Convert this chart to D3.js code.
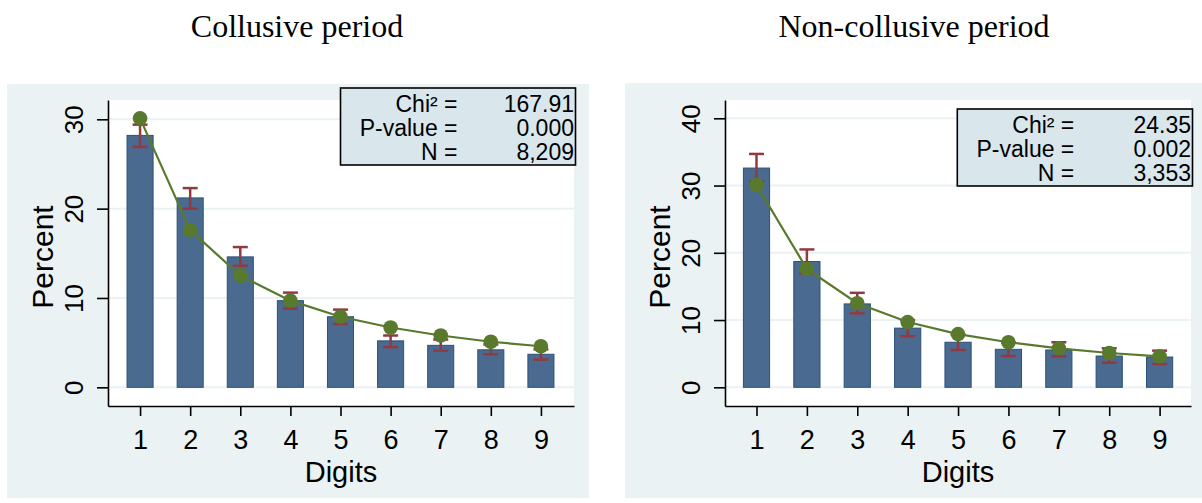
<!DOCTYPE html>
<html>
<head>
<meta charset="utf-8">
<script src="https://cdn.jsdelivr.net/npm/d3@7/dist/d3.min.js"></script>
<style>
body { margin: 0; background: #fff; }
svg { display: block; }
text { font-family: "Liberation Sans", Arial, sans-serif; fill: #000; }
.title { font-family: "Liberation Serif", "Times New Roman", serif; }
</style>
</head>
<body>
<svg width="1202" height="503"></svg>
<script>
/** Data */
var digits = [1, 2, 3, 4, 5, 6, 7, 8, 9];
var benford = [30.1, 17.6, 12.5, 9.7, 7.9, 6.7, 5.8, 5.1, 4.6];

var collusivePct  = [28.2, 21.2, 14.6, 9.7, 7.9, 5.2, 4.7, 4.2, 3.7];
var collusiveLow  = [26.9, 20.0, 13.6, 8.8, 7.1, 4.5, 4.1, 3.7, 3.1];
var collusiveHigh = [29.4, 22.3, 15.7, 10.6, 8.7, 5.8, 5.35, 4.8, 4.25];

var nonCollusivePct  = [32.6, 18.7, 12.4, 8.8, 6.7, 5.65, 5.55, 4.65, 4.5];
var nonCollusiveLow  = [30.6, 16.95, 11.0, 7.6, 5.55, 4.65, 4.6, 3.65, 3.45];
var nonCollusiveHigh = [34.7, 20.5, 14.05, 10.0, 7.85, 6.65, 6.7, 5.8, 5.45];

var statLabels = ["Chi\u00b2 =", "P-value =", "N ="];
var collusiveStats = ["167.91", "0.000", "8,209"];
var nonCollusiveStats = ["24.35", "0.002", "3,353"];

var collusiveTicks = [0, 10, 20, 30];
var nonCollusiveTicks = [0, 10, 20, 30, 40];

var titles = ["Collusive period", "Non-collusive period"];

d3.select(window).on('load', init);

function init() {
    var svg = d3.select("svg");

    drawPanel(svg, {
        title: titles[0], titleX: 297,
        pct: collusivePct, low: collusiveLow, high: collusiveHigh,
        stats: collusiveStats, ticks: collusiveTicks,
        bg: [7, 84, 582, 414],
        plot: { left: 108, right: 574, top: 100, bottom: 406 },
        xDomain: [0.36, 9.66], yDomain: [-2.09, 32.16],
        box: { x: 340.5, y: 88 }
    });

    drawPanel(svg, {
        title: titles[1], titleX: 914,
        pct: nonCollusivePct, low: nonCollusiveLow, high: nonCollusiveHigh,
        stats: nonCollusiveStats, ticks: nonCollusiveTicks,
        bg: [625, 83, 577, 415],
        plot: { left: 725, right: 1191, top: 100, bottom: 406 },
        xDomain: [0.375, 9.623], yDomain: [-2.78, 42.72],
        box: { x: 957.3, y: 109 }
    });
}

function drawPanel(svg, cfg) {
    var p = cfg.plot;

    svg.append("text")
        .attr("class", "title")
        .attr("x", cfg.titleX)
        .attr("y", 37)
        .attr("text-anchor", "middle")
        .style("font-size", "32px")
        .text(cfg.title);

    // graph region background
    svg.append("rect")
        .attr("x", cfg.bg[0]).attr("y", cfg.bg[1])
        .attr("width", cfg.bg[2]).attr("height", cfg.bg[3])
        .attr("fill", "#eaf2f3");

    svg.append("rect")
        .attr("x", p.left).attr("y", p.top)
        .attr("width", p.right - p.left).attr("height", p.bottom - p.top)
        .attr("fill", "#fff");

    var x = d3.scaleLinear().domain(cfg.xDomain).range([p.left, p.right]);
    var y = d3.scaleLinear().domain(cfg.yDomain).range([p.bottom, p.top]);

    var g = svg.append("g");

    // grid lines
    g.append("g")
        .selectAll("line")
        .data(cfg.ticks)
        .enter()
        .append("line")
        .attr("x1", p.left).attr("x2", p.right)
        .attr("y1", function (d) { return y(d); })
        .attr("y2", function (d) { return y(d); })
        .attr("stroke", "#eaf2f3")
        .attr("stroke-width", 2);

    var barW = x(1.26) - x(0.74);

    g.append("g")
        .selectAll("rect")
        .data(digits)
        .enter()
        .append("rect")
        .attr("x", function (d) { return x(d) - barW / 2; })
        .attr("y", function (d, i) { return y(cfg.pct[i]); })
        .attr("width", barW)
        .attr("height", function (d, i) { return y(0) - y(cfg.pct[i]); })
        .attr("fill", "#4a6b8f")
        .attr("stroke", "#2b5179")
        .attr("stroke-width", 1);

    // error bars
    var capW = 7.5;
    var eb = g.append("g")
        .attr("stroke", "#913a43")
        .attr("stroke-width", 2.5)
        .selectAll("g")
        .data(digits)
        .enter()
        .append("g");

    eb.append("line")
        .attr("x1", function (d) { return x(d); })
        .attr("x2", function (d) { return x(d); })
        .attr("y1", function (d, i) { return y(cfg.low[i]); })
        .attr("y2", function (d, i) { return y(cfg.high[i]); });
    eb.append("line")
        .attr("x1", function (d) { return x(d) - capW; })
        .attr("x2", function (d) { return x(d) + capW; })
        .attr("y1", function (d, i) { return y(cfg.low[i]); })
        .attr("y2", function (d, i) { return y(cfg.low[i]); });
    eb.append("line")
        .attr("x1", function (d) { return x(d) - capW; })
        .attr("x2", function (d) { return x(d) + capW; })
        .attr("y1", function (d, i) { return y(cfg.high[i]); })
        .attr("y2", function (d, i) { return y(cfg.high[i]); });

    // expected (Benford) line
    var line = d3.line()
        .x(function (d) { return x(d); })
        .y(function (d, i) { return y(benford[i]); });

    g.append("path")
        .datum(digits)
        .attr("d", line)
        .attr("fill", "none")
        .attr("stroke", "#597a2c")
        .attr("stroke-width", 2.2);

    g.append("g")
        .selectAll("circle")
        .data(digits)
        .enter()
        .append("circle")
        .attr("cx", function (d) { return x(d); })
        .attr("cy", function (d, i) { return y(benford[i]); })
        .attr("r", 7.3)
        .attr("fill", "#597a2c");

    // axes
    var yAxis = svg.append("g")
        .attr("transform", "translate(" + p.left + ",0)")
        .call(d3.axisLeft(y).tickValues(cfg.ticks).tickSize(11).tickSizeOuter(0));
    yAxis.selectAll("text")
        .attr("transform", "rotate(-90)")
        .attr("x", 0)
        .attr("y", -25)
        .attr("dy", 0)
        .attr("text-anchor", "middle")
        .style("font-size", "26px");

    var xAxis = svg.append("g")
        .attr("transform", "translate(0," + p.bottom + ")")
        .call(d3.axisBottom(x).tickValues(digits).tickSize(10).tickSizeOuter(0));
    xAxis.selectAll("text")
        .attr("y", 43)
        .attr("dy", 0)
        .style("font-size", "27px");

    svg.selectAll(".domain, .tick line")
        .attr("stroke", "#000")
        .attr("stroke-width", 1.6);
    svg.selectAll(".tick text").attr("fill", "#000").attr("font-family", null);

    svg.append("text")
        .attr("x", (p.left + p.right) / 2)
        .attr("y", 482)
        .attr("text-anchor", "middle")
        .style("font-size", "29px")
        .text("Digits");

    svg.append("text")
        .attr("transform", "translate(" + (p.left - 55.5) + "," + ((p.top + p.bottom) / 2 + 4) + ") rotate(-90)")
        .attr("text-anchor", "middle")
        .style("font-size", "30px")
        .text("Percent");

    // statistics box
    var bw = p.right + 1.5 - cfg.box.x, bh = 77;
    var box = svg.append("g").attr("transform", "translate(" + cfg.box.x + "," + cfg.box.y + ")");
    box.append("rect")
        .attr("width", bw).attr("height", bh)
        .attr("fill", "#d9e6eb")
        .attr("stroke", "#000")
        .attr("stroke-width", 1.6);
    box.selectAll("text.lbl")
        .data(statLabels)
        .enter()
        .append("text")
        .attr("class", "lbl")
        .attr("x", 117)
        .attr("y", function (d, i) { return 23.5 + i * 24.3; })
        .attr("text-anchor", "end")
        .style("font-size", "23px")
        .text(function (d) { return d; });
    box.selectAll("text.val")
        .data(cfg.stats)
        .enter()
        .append("text")
        .attr("class", "val")
        .attr("x", bw - 1.5)
        .attr("y", function (d, i) { return 23.5 + i * 24.3; })
        .attr("text-anchor", "end")
        .style("font-size", "23px")
        .text(function (d) { return d; });
}
</script>
</body>
</html>
